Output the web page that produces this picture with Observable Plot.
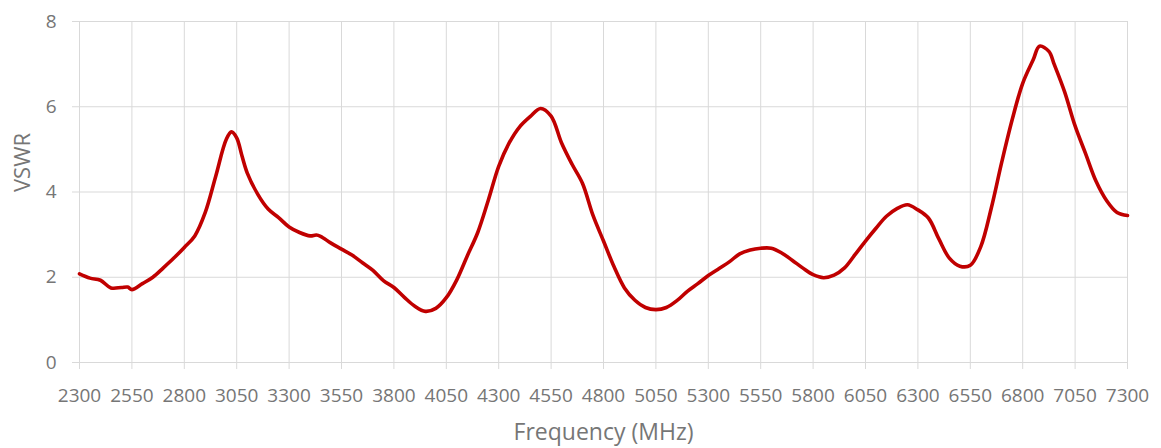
<!DOCTYPE html>
<html>
<head>
<meta charset="utf-8">
<script src="https://cdn.jsdelivr.net/npm/d3@7"></script>
<script src="https://cdn.jsdelivr.net/npm/@observablehq/plot@0.6"></script>
<style>
  html, body { margin: 0; padding: 0; background: #ffffff; }
  #chart { width: 1161px; height: 448px; }
</style>
</head>
<body>
<div id="chart"></div>
<script>
const frequency = [
  2300, 2350, 2400, 2450, 2500, 2530, 2550, 2600, 2650, 2700, 2750, 2800, 2850, 2900, 2950, 3000, 3025, 3050, 3075, 3100,
  3150, 3200, 3250, 3300, 3350, 3400, 3430, 3450, 3500, 3550, 3600, 3650, 3700, 3750, 3800, 3850, 3900, 3950, 4000, 4050,
  4100, 4150, 4200, 4250, 4300, 4350, 4400, 4450, 4500, 4550, 4600, 4650, 4700, 4750, 4800, 4850, 4900, 4950, 5000, 5050,
  5100, 5150, 5200, 5250, 5300, 5350, 5400, 5450, 5500, 5550, 5600, 5650, 5700, 5750, 5800, 5850, 5900, 5950, 6000, 6050,
  6100, 6150, 6200, 6250, 6300, 6350, 6400, 6450, 6500, 6550, 6600, 6650, 6700, 6750, 6800, 6850, 6880, 6925, 6950, 7000,
  7050, 7100, 7150, 7200, 7250, 7300
];
const vswr = [
  2.08, 1.98, 1.93, 1.75, 1.76, 1.77, 1.71, 1.85, 2.00, 2.22, 2.45, 2.70, 2.97, 3.52, 4.37, 5.23, 5.41, 5.27, 4.85, 4.45,
  3.95, 3.60, 3.40, 3.18, 3.05, 2.97, 2.99, 2.96, 2.80, 2.66, 2.52, 2.34, 2.16, 1.92, 1.76, 1.53, 1.32, 1.20, 1.27, 1.52,
  1.94, 2.50, 3.05, 3.80, 4.60, 5.15, 5.53, 5.77, 5.96, 5.78, 5.15, 4.65, 4.20, 3.45, 2.85, 2.25, 1.75, 1.46, 1.29, 1.24,
  1.29, 1.45, 1.67, 1.85, 2.04, 2.20, 2.36, 2.55, 2.64, 2.68, 2.68, 2.57, 2.40, 2.22, 2.06, 1.99, 2.05, 2.22, 2.53, 2.85,
  3.15, 3.43, 3.61, 3.70, 3.58, 3.39, 2.90, 2.45, 2.26, 2.28, 2.72, 3.62, 4.70, 5.70, 6.55, 7.10, 7.42, 7.30, 7.00, 6.35,
  5.55, 4.90, 4.25, 3.80, 3.52, 3.45
];
const xTicks = [2300, 2550, 2800, 3050, 3300, 3550, 3800, 4050, 4300, 4550, 4800, 5050, 5300, 5550, 5800, 6050, 6300, 6550, 6800, 7050, 7300];
const yTicks = [0, 2, 4, 6, 8];
const xTitle = "Frequency (MHz)";
const yTitle = "VSWR";

const data = frequency.map((f, i) => ({f, v: vswr[i]}));

const chart = Plot.plot({
  width: 1161,
  height: 448,
  marginTop: 21,
  marginBottom: 86,
  marginLeft: 79,
  marginRight: 34,
  style: {fontFamily: "'Open Sans', sans-serif", fontSize: "19px", color: "#767676", background: "#ffffff"},
  x: {domain: [2300, 7300]},
  y: {domain: [0, 8]},
  marks: [
    Plot.ruleY(yTicks, {stroke: "#d9d9d9", strokeWidth: 1, insetLeft: -7}),
    Plot.ruleX(xTicks, {stroke: "#d9d9d9", strokeWidth: 1, insetBottom: -7}),
    Plot.axisX(xTicks, {tickSize: 0, tickPadding: 26, fontSize: 19, label: null, fill: "#767676", tickFormat: d3.format("d")}),
    Plot.axisY(yTicks, {tickSize: 0, tickPadding: 23, fontSize: 19, label: null, fill: "#767676"}),
    Plot.text([xTitle], {frameAnchor: "bottom", dy: 77, fontSize: 23, fill: "#767676"}),
    Plot.text([yTitle], {frameAnchor: "left", dx: -57, rotate: -90, fontSize: 22, fill: "#767676"}),
    Plot.line(data, {x: "f", y: "v", stroke: "#C00000", strokeWidth: 3.6, curve: "catmull-rom", strokeLinejoin: "round", strokeLinecap: "round"})
  ]
});
document.getElementById("chart").appendChild(chart);
</script>
</body>
</html>
